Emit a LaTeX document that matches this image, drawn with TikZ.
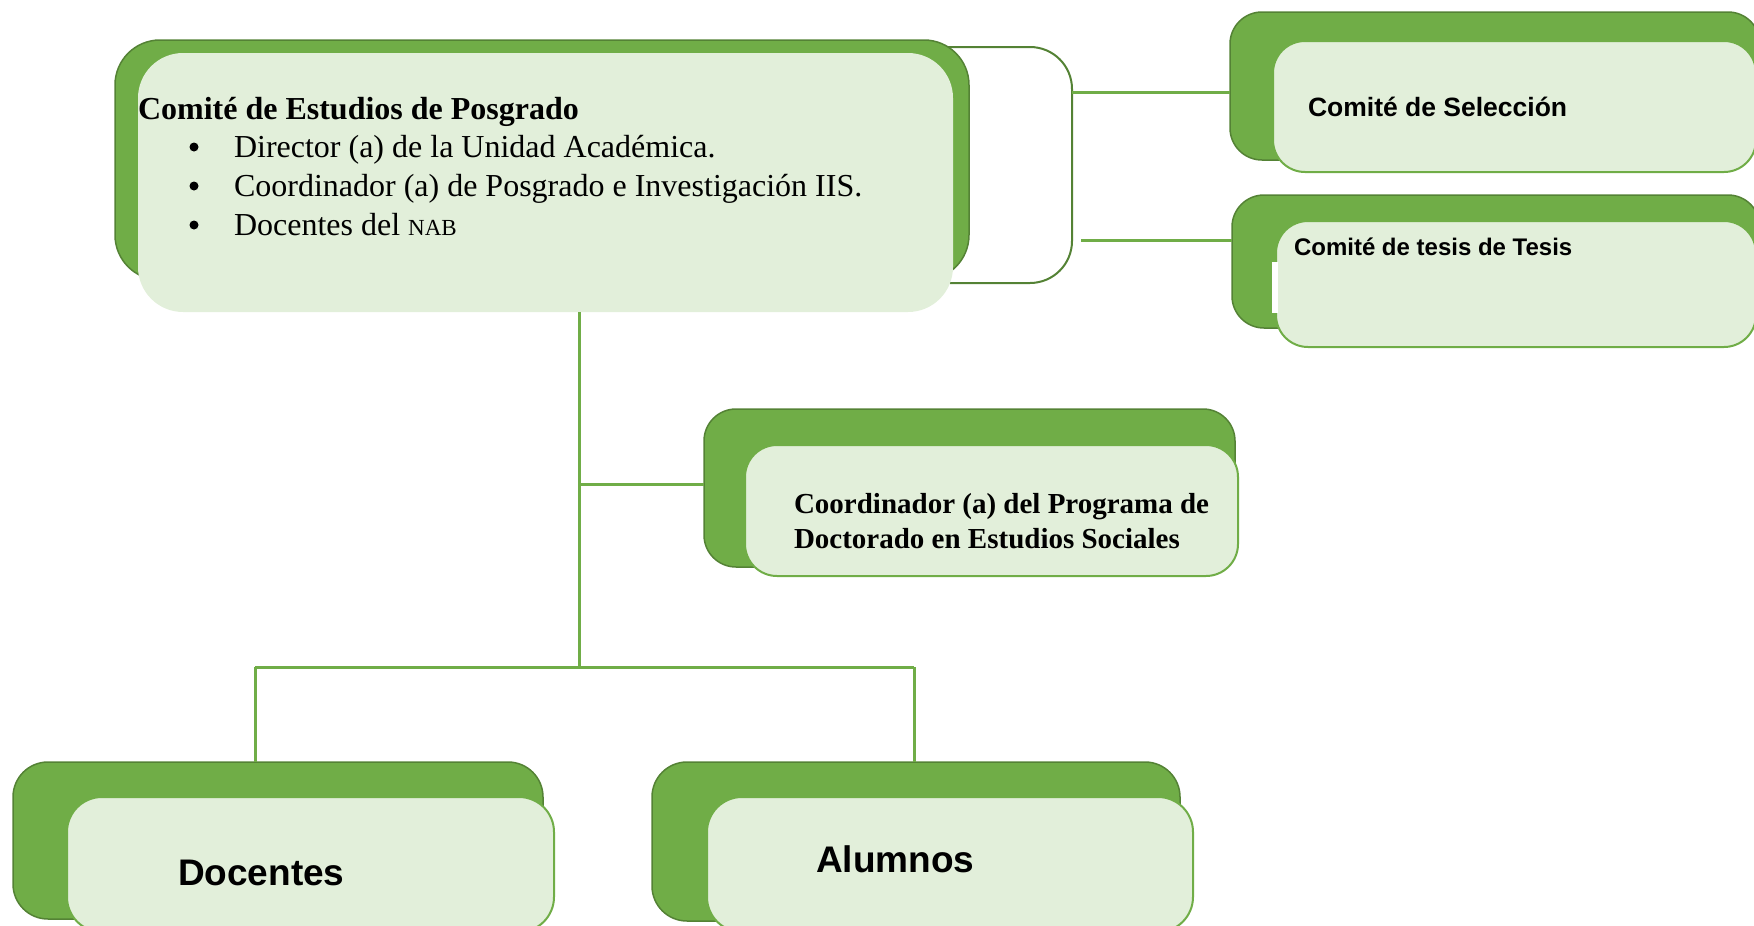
\documentclass[tikz,border=0pt]{standalone}
\usepackage{fontspec}
\setmainfont{Liberation Serif}
\newfontfamily\arialf{Liberation Sans}
\definecolor{dkg}{HTML}{70AD47}
\definecolor{dkb}{HTML}{548235}
\definecolor{ltg}{HTML}{E2EFDA}
\definecolor{ltb}{HTML}{70AD47}
\definecolor{cong}{HTML}{70AD47}
\begin{document}
\begin{tikzpicture}[x=1pt,y=-1pt,
  dk/.style={fill=dkg, draw=dkb, line width=1.5pt, rounded corners=#1, inner sep=0pt, outer sep=0pt, anchor=north west},
  lt/.style={fill=ltg, draw=ltb, line width=2pt, rounded corners=#1, inner sep=0pt, outer sep=0pt, anchor=north west},
  con/.style={draw=cong, line width=3pt},
  brk/.style={draw=dkb, line width=2pt},
  txt/.style={anchor=base west, inner sep=0pt, outer sep=0pt},
  bul/.style={circle, fill=black, inner sep=0pt, minimum size=9pt},
  serb/.style={font=\fontsize{32}{39}\selectfont\bfseries},
  serr/.style={font=\fontsize{32}{39}\selectfont},
  ariab/.style={font=\arialf\bfseries\fontsize{#1}{#1}\selectfont}
]
\useasboundingbox (0,0) rectangle (1754,926);
% bracket
\coordinate (bt) at (940,47);
\coordinate (bb) at (950,283);
\draw[brk, rounded corners=42pt] (bt) -- (1072,47) -- (1072,283) -- (bb);
% top box
\node[dk=45pt, minimum width=854pt, minimum height=240pt] (cepS) at (115,40) {};
\node[lt=45pt, draw=none, minimum width=815pt, minimum height=259pt] (cep) at (138,53) {};
\node[txt, serb] (h1) at (138,119) {Comité de Estudios de Posgrado};
\node[bul] (u1) at (194,147) {};
\node[bul] (u2) at (194,186) {};
\node[bul] (u3) at (194,225) {};
\node[txt, serr] (i1) at (234,157) {Director (a) de la Unidad Académica.};
\node[txt, serr] (i2) at (234,196) {Coordinador (a) de Posgrado e Investigación IIS.};
\node[txt, serr] (i3) at (234,235) {Docentes del {\fontsize{23}{23}\selectfont NAB}};
% seleccion
\node[dk=32pt, minimum width=530pt, minimum height=148pt] (selS) at (1230,12) {};
\node[lt=32pt, minimum width=483pt, minimum height=131pt] (sel) at (1273,41) {};
\node[txt, ariab=26.5] (selT) at (1308,116) {Comité de Selección};
% tesis
\node[dk=32pt, minimum width=528pt, minimum height=133pt] (tesS) at (1232,195) {};
\node[lt=32pt, minimum width=480pt, minimum height=126pt] (tes) at (1276,221) {};
\fill[white] (1272,262) rectangle (1278,313);
\node[txt, ariab=24] (tesT) at (1294,255) {Comité de tesis de Tesis};
% connectors to right boxes
\coordinate (b1) at (1072,92);
\coordinate (b2) at (1081,240);
\draw[con] (b1) -- (b1 -| selS.west);
\draw[con] (b2) -- (b2 -| tesS.west);
% coordinador
\node[dk=32pt, minimum width=531pt, minimum height=158pt] (codS) at (704,409) {};
\node[lt=32pt, minimum width=493pt, minimum height=131pt] (cod) at (745,445) {};
\node[txt, font=\fontsize{29}{35}\selectfont\bfseries] (codT1) at (794,513) {Coordinador (a) del Programa de};
\node[txt, font=\fontsize{29}{35}\selectfont\bfseries] (codT2) at (794,548) {Doctorado en Estudios Sociales};
% docentes
\node[dk=35pt, minimum width=530pt, minimum height=157pt] (docS) at (13,762) {};
\node[lt=35pt, minimum width=487pt, minimum height=135pt] (doc) at (67,797) {};
\node[txt, ariab=37] (docT) at (178,885) {Docentes};
% alumnos
\node[dk=35pt, minimum width=528pt, minimum height=159pt] (aluS) at (652,762) {};
\node[lt=35pt, minimum width=486pt, minimum height=135pt] (alu) at (707,797) {};
\node[txt, ariab=37] (aluT) at (816,872) {Alumnos};
% trunk
\coordinate (tt) at (579,312);
\coordinate (j1) at (579,484);
\coordinate (j2) at (579,667);
\coordinate (jl) at (255,667);
\coordinate (jr) at (914,667);
\draw[con] (tt) -- (j2);
\draw[con] (j1) -- (j1 -| codS.west);
\draw[con] (jl) -- (jr);
\draw[con] (jl) -- (jl |- docS.north);
\draw[con] (jr) -- (jr |- aluS.north);
\end{tikzpicture}
\end{document}
